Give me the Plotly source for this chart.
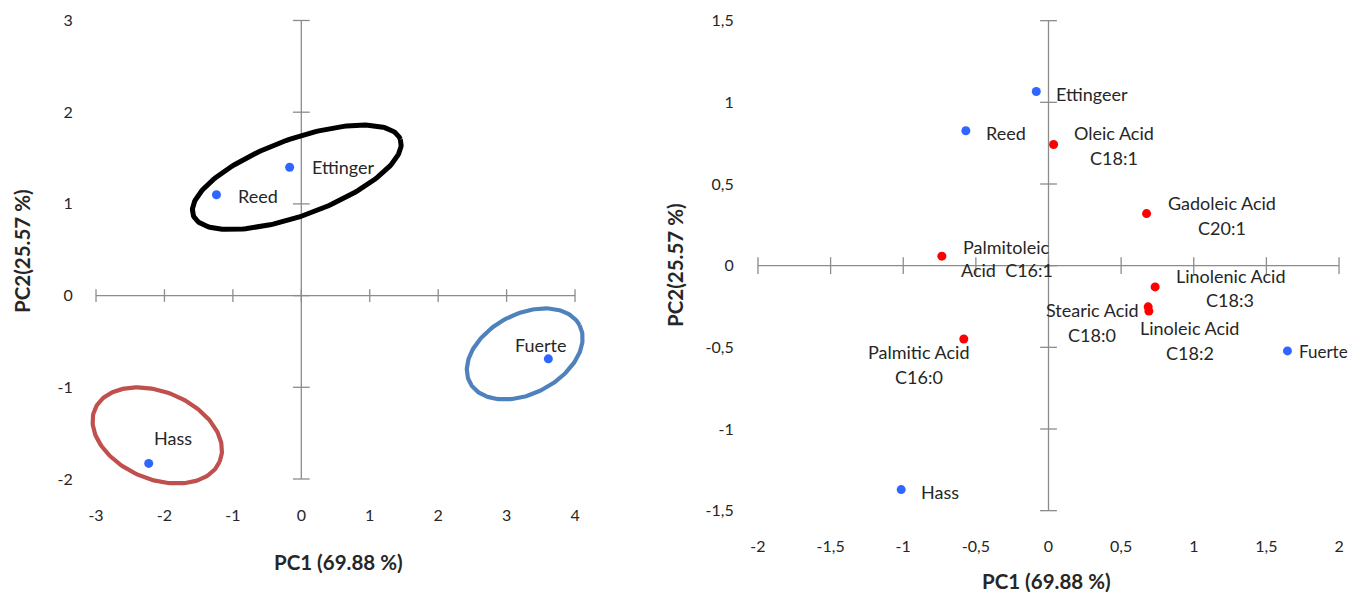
import numpy as np
import plotly.graph_objects as go

# ---------------- data : left panel (scores) ----------------
left_names = ["Ettinger", "Reed", "Fuerte", "Hass"]
left_pc1 = [-0.17, -1.24, 3.61, -2.23]
left_pc2 = [1.40, 1.10, -0.69, -1.83]
left_xticks = [-3, -2, -1, 0, 1, 2, 3, 4]
left_xticktext = ["-3", "-2", "-1", "0", "1", "2", "3", "4"]
left_yticks = [-2, -1, 0, 1, 2, 3]
left_yticktext = ["-2", "-1", "0", "1", "2", "3"]

# group ellipses (centre, two conjugate half-axis vectors in data units)
ell_cx = [-0.066, 3.265, -2.105]
ell_cy = [1.29, -0.636, -1.525]
ell_u = [(1.513, 0.414), (0.801, 0.314), (0.912, -0.286)]
ell_v = [(0.193, -0.391), (0.272, -0.384), (-0.25, -0.439)]
ell_colors = ["#000000", "#4F81BD", "#C0504D"]

# ---------------- data : right panel (biplot) ----------------
cult_names = ["Ettingeer", "Reed", "Fuerte", "Hass"]
cult_pc1 = [-0.084, -0.569, 1.645, -1.014]
cult_pc2 = [1.066, 0.826, -0.522, -1.371]
acid_line1 = ["Oleic Acid", "Gadoleic Acid", "Palmitoleic", "Linolenic Acid",
              "Stearic Acid", "Linoleic Acid", "Palmitic Acid"]
acid_line2 = ["C18:1", "C20:1", "Acid  C16:1", "C18:3", "C18:0", "C18:2", "C16:0"]
acid_pc1 = [0.035, 0.675, -0.734, 0.734, 0.686, 0.691, -0.583]
acid_pc2 = [0.742, 0.319, 0.058, -0.130, -0.252, -0.278, -0.449]
right_xticks = [-2, -1.5, -1, -0.5, 0, 0.5, 1, 1.5, 2]
right_xticktext = ["-2", "-1,5", "-1", "-0,5", "0", "0,5", "1", "1,5", "2"]
right_yticks = [-1.5, -1, -0.5, 0, 0.5, 1, 1.5]
right_yticktext = ["-1,5", "-1", "-0,5", "0", "0,5", "1", "1,5"]

# ---------------- styling ----------------
OFF = 8                          # page body margin of the browser
W, H = 1358 - 2 * OFF, 601 - 2 * OFF  # figure fits the window without scrolling
FONT = "Lato, 'Open Sans', sans-serif"
AXC = "#8C8C8C"
TXT = "#262626"
BLUE = "#2F66FF"
RED = "#FF0000"


def px_x(p):
    return (p - OFF) / W


def px_y(p):
    return 1 - (p - OFF) / H


fig = go.Figure()


def axis_cross(xticks, yticks, xa, ya, size_x, size_y):
    # horizontal axis through y=0 and vertical axis through x=0
    fig.add_trace(go.Scatter(x=[xticks[0], xticks[-1]], y=[0, 0], mode="lines",
                             line=dict(color=AXC, width=1.3), xaxis=xa, yaxis=ya,
                             hoverinfo="skip", showlegend=False))
    fig.add_trace(go.Scatter(x=[0, 0], y=[yticks[0], yticks[-1]], mode="lines",
                             line=dict(color=AXC, width=1.3), xaxis=xa, yaxis=ya,
                             hoverinfo="skip", showlegend=False))
    fig.add_trace(go.Scatter(x=xticks, y=[0] * len(xticks), mode="markers",
                             marker=dict(symbol="line-ns", size=size_x,
                                         line=dict(color=AXC, width=1.3)),
                             xaxis=xa, yaxis=ya, hoverinfo="skip", showlegend=False,
                             cliponaxis=False))
    fig.add_trace(go.Scatter(x=[0] * len(yticks), y=yticks, mode="markers",
                             marker=dict(symbol="line-ew", size=size_y,
                                         line=dict(color=AXC, width=1.3)),
                             xaxis=xa, yaxis=ya, hoverinfo="skip", showlegend=False,
                             cliponaxis=False))


# ---- left panel ----
axis_cross(left_xticks, left_yticks, "x", "y", 9, 12)

t = np.linspace(0, 2 * np.pi, 200)
for cx, cy, u, v, col in zip(ell_cx, ell_cy, ell_u, ell_v, ell_colors):
    ex = cx + u[0] * np.cos(t) + v[0] * np.sin(t)
    ey = cy + u[1] * np.cos(t) + v[1] * np.sin(t)
    fig.add_trace(go.Scatter(x=ex, y=ey, mode="lines",
                             line=dict(color=col, width=5 if col == "#000000" else 4.2),
                             xaxis="x", yaxis="y", hoverinfo="skip", showlegend=False))

fig.add_trace(go.Scatter(x=left_pc1, y=left_pc2, mode="markers",
                         marker=dict(color=BLUE, size=9), xaxis="x", yaxis="y",
                         showlegend=False, cliponaxis=False))

# ---- right panel ----
axis_cross(right_xticks, right_yticks, "x2", "y2", 12, 12)
fig.add_trace(go.Scatter(x=acid_pc1, y=acid_pc2, mode="markers",
                         marker=dict(color=RED, size=9), xaxis="x2", yaxis="y2",
                         showlegend=False, cliponaxis=False))
fig.add_trace(go.Scatter(x=cult_pc1, y=cult_pc2, mode="markers",
                         marker=dict(color=BLUE, size=9), xaxis="x2", yaxis="y2",
                         showlegend=False, cliponaxis=False))

# ---- point labels ----
ann = []
LABSIZE = 18


def lab(text, x, y, xr, yr, dx, dy, anchor, size=LABSIZE):
    ann.append(dict(text=text, x=x, y=y, xref=xr, yref=yr, xshift=dx, yshift=-dy,
                    xanchor=anchor, yanchor="middle", showarrow=False,
                    font=dict(family=FONT, size=size, color=TXT)))


left_off = [(20, 0, "left"), (20, 1, "left"), (-7, -14, "center"), (24, -25, "center")]
for name, x, y, (dx, dy, a) in zip(left_names, left_pc1, left_pc2, left_off):
    lab(name, x, y, "x", "y", dx, dy, a)

cult_off = [(18, 2, "left"), (18, 2, "left"), (10, 1, "left"), (18, 2, "left")]
for name, x, y, (dx, dy, a) in zip(cult_names, cult_pc1, cult_pc2, cult_off):
    lab(name, x, y, "x2", "y2", dx, dy, a, size=17 if name == "Fuerte" else LABSIZE)

acid_off = [(60, -11, 14), (75, -11, 14), (65, -9, 14), (75, -11, 13),
            (-56, 3, 28), (41, 17, 42), (-45, 13, 38)]
for l1, l2, x, y, (dx, d1, d2) in zip(acid_line1, acid_line2, acid_pc1, acid_pc2, acid_off):
    lab(l1, x, y, "x2", "y2", dx, d1, "center")
    lab(l2, x, y, "x2", "y2", dx, d2, "center")

# ---- axis titles ----
title_font = dict(family=FONT, size=20.5, color=TXT)
for txt, px, py, ang in [("<b>PC1 (69.88 %)</b>", 338, 562, 0),
                         ("<b>PC2(25.57 %)</b>", 22, 251, -90),
                         ("<b>PC1 (69.88 %)</b>", 1046, 581, 0),
                         ("<b>PC2(25.57 %)</b>", 675, 265, -90)]:
    ann.append(dict(text=txt, x=px_x(px), y=px_y(py), xref="paper", yref="paper",
                    xanchor="center", yanchor="middle", textangle=ang,
                    showarrow=False, font=title_font))

tickfont = dict(family=FONT, size=16, color=TXT)
common = dict(showgrid=False, zeroline=False, showline=False, ticks="",
              tickfont=tickfont, automargin=False)

fig.update_layout(
    width=W, height=H,
    margin=dict(l=0, r=0, t=0, b=0, autoexpand=False),
    paper_bgcolor="white", plot_bgcolor="white",
    showlegend=False,
    annotations=ann,
    xaxis=dict(domain=[px_x(87.8), px_x(585.3)], range=[-3.12, 4.15],
               tickmode="array", tickvals=left_xticks, ticktext=left_xticktext,
               anchor="y", ticklabelstandoff=14, **common),
    yaxis=dict(domain=[px_y(490), px_y(15.9)], range=[-2.12, 3.05],
               tickmode="array", tickvals=left_yticks, ticktext=left_yticktext,
               anchor="x", ticklabelstandoff=14, **common),
    xaxis2=dict(domain=[px_x(750.7), px_x(1346.3)], range=[-2.05, 2.05],
                tickmode="array", tickvals=right_xticks, ticktext=right_xticktext,
                anchor="y2", ticklabelstandoff=8, **common),
    yaxis2=dict(domain=[px_y(527), px_y(12.5)], range=[-1.6, 1.55],
                tickmode="array", tickvals=right_yticks, ticktext=right_yticktext,
                anchor="x2", ticklabelstandoff=16, **common),
)

fig.write_html("out.html")
